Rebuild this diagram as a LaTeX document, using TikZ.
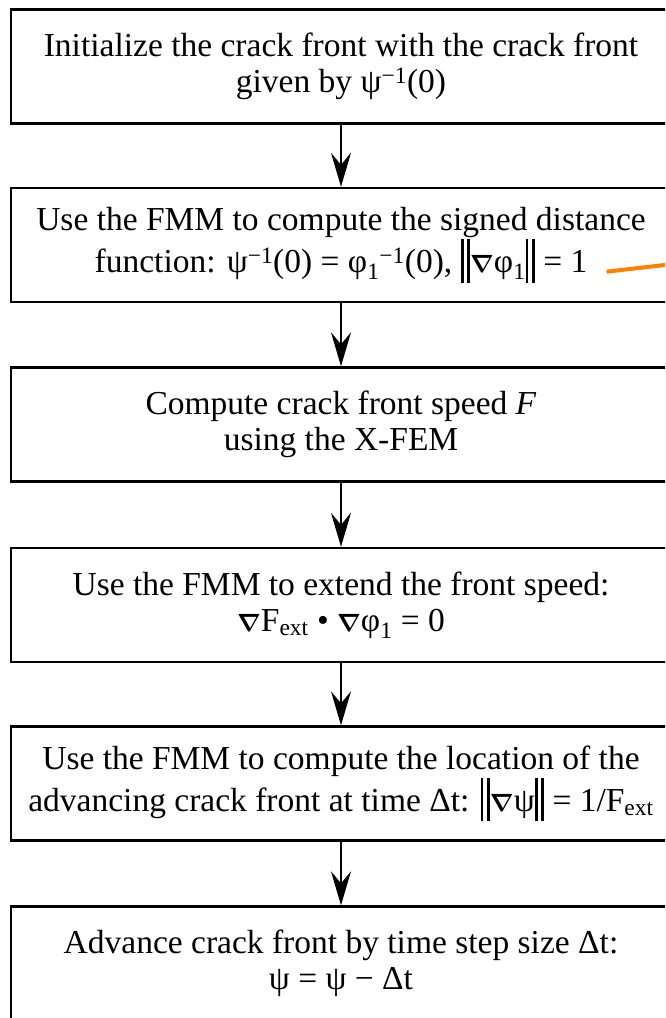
\documentclass[tikz,border=0pt]{standalone}
\usepackage{amsmath,amssymb}
\usepackage{fontspec}
\setmainfont{Liberation Serif}
\usetikzlibrary{arrows.meta}
\definecolor{linkorange}{RGB}{255,128,0}
\newcommand\nrm{\rule[-0.3em]{0.085em}{1.3em}\hspace{0.11em}\rule[-0.3em]{0.085em}{1.3em}}
\newcommand\bnab{$\boldsymbol{\nabla}$}
\begin{document}
\begin{tikzpicture}[x=1pt,y=-1pt,
  stepbox/.style={draw, line width=2.4pt, minimum width=660pt, minimum height=114pt,
    align=center, inner sep=0pt, font=\fontsize{33.5}{36}\selectfont},
  flow/.style={line width=2pt, -{Stealth[length=34pt,width=20pt,inset=12pt]}}]
\clip (0,0) rectangle (665,1018);
\node[stepbox] (b1) at (341,66.5) {Initialize the crack front with the crack front\\given by ψ\textsuperscript{−1}(0)};
\node[stepbox] (b2) at (341,245) {Use the FMM to compute the signed distance\\function: ψ\textsuperscript{−1}(0) = φ\textsubscript{1}\textsuperscript{−1}(0), \nrm\bnab φ\textsubscript{1}\nrm\ = 1};
\node[stepbox] (b3) at (341,424.5) {Compute crack front speed \textit{F}\\using the X-FEM};
\node[stepbox] (b4) at (341,605) {Use the FMM to extend the front speed:\\\bnab F\textsubscript{ext} • \bnab φ\textsubscript{1} = 0};
\node[stepbox] (b5) at (341,783.5) {Use the FMM to compute the location of the\\advancing crack front at time Δt: \nrm\bnab ψ\nrm\ = 1/F\textsubscript{ext}};
\node[stepbox] (b6) at (341,963.5) {Advance crack front by time step size Δt:\\ψ = ψ − Δt};
\draw[flow] (b1) -- (b2);
\draw[flow] (b2) -- (b3);
\draw[flow] (b3) -- (b4);
\draw[flow] (b4) -- (b5);
\draw[flow] (b5) -- (b6);
\coordinate (o1) at (606.5,271.7);
\coordinate (o2) at (700,260.9);
\draw[linkorange, line width=4pt] (o1) -- (o2);
\end{tikzpicture}
\end{document}
